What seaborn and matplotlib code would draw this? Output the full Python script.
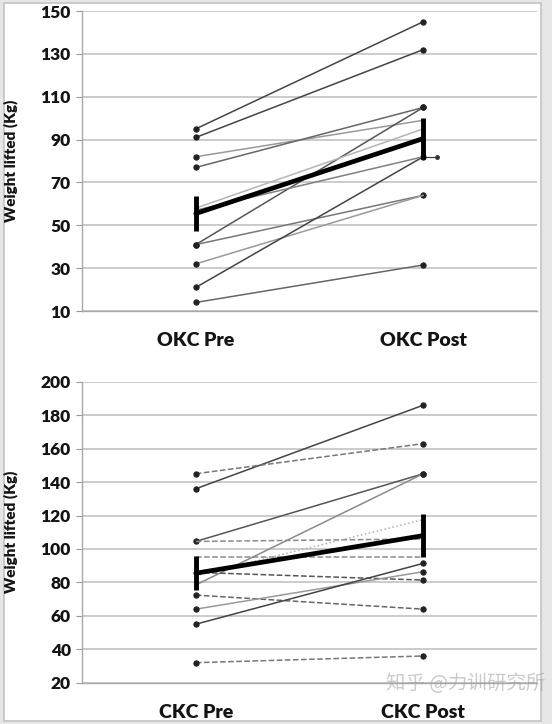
import numpy as np
import pandas as pd
import matplotlib
matplotlib.use("Agg")
import matplotlib.pyplot as plt
import seaborn as sns

# values (kg)
okc_labels = ["OKC Pre", "OKC Post"]
okc_pre = [95, 91, 82, 77, 41, 41, 32, 21, 14, 58, 57]
okc_post = [145, 132, 99, 105, 105, 64, 64, 82, 31.5, 95, 82]
okc_mean = [55.5, 90.5]
okc_err = [8, 9.5]

ckc_labels = ["CKC Pre", "CKC Post"]
ckc_pre = [136, 145, 104.5, 78.5, 104.5, 95.3, 84, 86, 72.4, 64, 55, 32]
ckc_post = [186, 163, 145, 145, 106, 95.3, 117.5, 81.4, 64, 86.4, 91.4, 36]
ckc_mean = [85.5, 108]
ckc_err = [10, 13]

okc_ticks = [10, 30, 50, 70, 90, 110, 130, 150]
ckc_ticks = [20, 40, 60, 80, 100, 120, 140, 160, 180, 200]

# line styles per subject
okc_style = [
    ("#444444", "-", "both"), ("#444444", "-", "both"), ("#9a9a9a", "-", "pre"),
    ("#666666", "-", "both"), ("#555555", "-", "both"), ("#777777", "-", "both"),
    ("#9a9a9a", "-", "pre"), ("#444444", "-", "both"), ("#666666", "-", "both"),
    ("#b5b5b5", "-", "none"), ("#808080", "-", "none"),
]
ckc_style = [
    ("#444444", "-", "both"), ("#777777", "--", "both"), ("#555555", "-", "both"),
    ("#8a8a8a", "-", "post"), ("#8a8a8a", "--", "none"), ("#8a8a8a", "--", "none"),
    ("#b0b0b0", ":", "none"), ("#555555", "--", "post"), ("#666666", "--", "both"),
    ("#999999", "-", "both"), ("#444444", "-", "both"), ("#777777", "--", "both"),
]

sns.set_theme(style="white")
plt.rcParams["font.family"] = ["Lato", "DejaVu Sans"]

fig = plt.figure(figsize=(5.52, 7.24), dpi=100)
fig.patch.set_facecolor("#e6e6e6")
# white panel with a thin grey frame
fig.add_artist(plt.Rectangle((4 / 552, 3 / 724), 537 / 552, 718 / 724, transform=fig.transFigure,
                             facecolor="white", edgecolor="#c4c4c4", lw=1.2, zorder=0))

ax1 = fig.add_axes([0.1486, 0.5704, 0.8243, 0.4144])
ax2 = fig.add_axes([0.1486, 0.0570, 0.8243, 0.4157])


def draw_panel(ax, labels, pre, post, styles, mean, err, ticks):
    ax.set_facecolor("none")
    for i in range(len(pre)):
        df = pd.DataFrame({"pos": [0, 1], "kg": [pre[i], post[i]]})
        color, ls, mk = styles[i]
        every = {"both": [0, 1], "pre": [0], "post": [1], "none": []}[mk]
        sns.lineplot(data=df, x="pos", y="kg", ax=ax, color=color, linestyle=ls, lw=1.1,
                     marker="o" if every else None, markevery=every if every else None,
                     markersize=3.8, markerfacecolor="#222222", markeredgecolor="#222222",
                     estimator=None, sort=False, legend=False, zorder=3)
    mdf = pd.DataFrame({"pos": [0, 1], "kg": mean})
    sns.lineplot(data=mdf, x="pos", y="kg", ax=ax, color="black", lw=3.4,
                 estimator=None, sort=False, legend=False, zorder=5)
    ax.errorbar([0, 1], mean, yerr=err, fmt="none", ecolor="black", elinewidth=3.5,
                capsize=0, zorder=5)

    ax.set_xlim(-0.5, 1.5)
    ax.set_ylim(ticks[0], ticks[-1])
    ax.set_yticks(ticks)
    ax.set_yticklabels([str(t) for t in ticks], fontsize=12.5, fontweight="heavy", color="#141414")
    ax.set_xticks([0, 1])
    ax.set_xticklabels(labels, fontsize=14, fontweight="heavy", color="#141414")
    ax.set_xticks([0.5], minor=True)
    ax.tick_params(axis="x", which="major", length=0, pad=15)
    ax.tick_params(axis="x", which="minor", length=4, width=0.8, color="#999999", direction="out")
    ax.tick_params(axis="y", length=4, width=0.8, color="#999999", direction="out", pad=4, left=True)
    ax.yaxis.grid(True, color="#bdbdbd", lw=1.1)
    ax.set_axisbelow(True)
    for s in ["top", "right"]:
        ax.spines[s].set_visible(False)
    for s in ["left", "bottom"]:
        ax.spines[s].set_color("#a8a8a8")
        ax.spines[s].set_linewidth(1.0)
    ax.set_xlabel("")
    ax.set_ylabel("Weight lifted (Kg)", fontsize=11, fontweight="heavy", color="#141414")
    ax.yaxis.set_label_coords(-0.14, 0.5)


draw_panel(ax1, okc_labels, okc_pre, okc_post, okc_style, okc_mean, okc_err, okc_ticks)
draw_panel(ax2, ckc_labels, ckc_pre, ckc_post, ckc_style, ckc_mean, ckc_err, ckc_ticks)

# small "n=2" tag beside the shared OKC Post value
ax1.plot([1.0, 1.06], [okc_post[7], okc_post[7]], color="#333333", lw=0.8,
         marker="o", markevery=[1], markersize=2.5, zorder=4)

# source watermark
fig.text(0.70, 0.048, "知乎 @力训研究所", fontsize=14, color="#a0a0a0", alpha=0.55,
         family=["Noto Sans CJK SC", "DejaVu Sans"])

fig.savefig("out.png", dpi=100, facecolor=fig.get_facecolor())
